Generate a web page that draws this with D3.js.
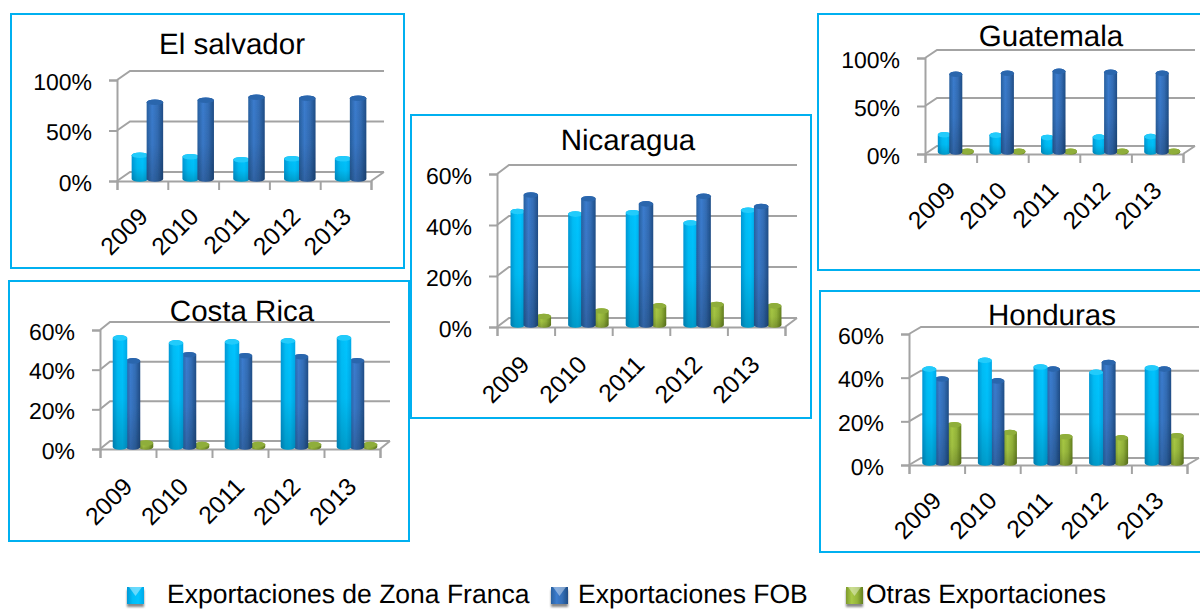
<!DOCTYPE html>
<html lang="es">
<head>
<meta charset="utf-8">
<script src="https://d3js.org/d3.v7.min.js"></script>
<style>
	html, body { margin: 0; background: #fff; overflow: hidden; }
	svg { display: block; }
	text { font-family: "Liberation Sans", Arial, sans-serif; fill: #000; text-rendering: geometricPrecision; }
	.box { fill: #fff; stroke: #00b0f0; stroke-width: 2px; }
	.wall { fill: none; stroke: #a3a3a3; stroke-width: 2px; }
	.axis path, .axis line { stroke: #a3a3a3; stroke-width: 2px; }
	.axis text { font-size: 23px; }
	.title { font-size: 29.5px; text-anchor: middle; }
	.year { font-size: 24.5px; text-anchor: end; }
	.legend-label { font-size: 26.5px; }
</style>
</head>
<body>
<div id="chart"></div>
<script>

var width = 1200, height = 609;

var years = ["2009", "2010", "2011", "2012", "2013"];
var seriesNames = ["Exportaciones de Zona Franca", "Exportaciones FOB", "Otras Exportaciones"];

// values, in percent
var salvadorZona = [23.5, 22, 19, 20, 20];
var salvadorFob = [76, 78, 81, 80, 80];

var nicaraguaZona = [44.5, 43.5, 44, 40, 45];
var nicaraguaFob = [51, 49.5, 47.5, 50.5, 46.5];
var nicaraguaOtras = [3.3, 5.5, 7.5, 8, 7.5];

var guatemalaZona = [18, 17.5, 15, 15.5, 16];
var guatemalaFob = [81, 82, 84, 83, 82];
var guatemalaOtras = [0.8, 0.8, 0.8, 0.8, 0.8];

var costaRicaZona = [55, 52.5, 53, 53.5, 55];
var costaRicaFob = [43.4, 46.5, 46, 45.5, 43.5];
var costaRicaOtras = [2, 1.2, 1.2, 1.2, 1.2];

var hondurasZona = [43, 47, 44, 41.5, 43.5];
var hondurasFob = [38.5, 37.6, 43, 46, 43];
var hondurasOtras = [17.5, 14, 12, 11.5, 12.5];

var ticks100 = [0, 50, 100];
var ticks60 = [0, 20, 40, 60];

// where each little chart sits on the slide
var panels = [
	{ title: "El salvador", values: [salvadorZona, salvadorFob], ticks: ticks100,
		box: [11, 14, 393, 254], x: [117, 371], y: [181, 80], back: [13, -9], pitch: 15,
		titleAt: [232, 54], yearAt: [7, 37], blueOnTop: true },
	{ title: "Costa Rica", values: [costaRicaZona, costaRicaFob, costaRicaOtras], ticks: ticks60,
		box: [9, 281, 400, 260], x: [100, 380], y: [449, 330], back: [10, -8], pitch: 13,
		titleAt: [242, 321], yearAt: [6, 39], blueOnTop: false },
	{ title: "Nicaragua", values: [nicaraguaZona, nicaraguaFob, nicaraguaOtras], ticks: ticks60,
		box: [411, 115, 400, 303], x: [497, 785], y: [327, 174], back: [12, -9], pitch: 13,
		titleAt: [628, 150], yearAt: [5, 39], blueOnTop: true },
	{ title: "Guatemala", values: [guatemalaZona, guatemalaFob, guatemalaOtras], ticks: ticks100,
		box: [818, 14, 400, 256], x: [925, 1183], y: [154, 58], back: [12, -8], pitch: 11.5,
		titleAt: [1051, 46], yearAt: [6, 38], blueOnTop: true },
	{ title: "Honduras", values: [hondurasZona, hondurasFob, hondurasOtras], ticks: ticks60,
		box: [820, 291, 400, 261], x: [909, 1187], y: [465, 334], back: [12, -7], pitch: 12.5,
		titleAt: [1052, 325], yearAt: [6, 37], blueOnTop: false }
];

var svg = d3.select("#chart").append("svg")
	.attr("width", width)
	.attr("height", height);

var defs = svg.append("defs");

defs.append("filter").attr("id", "soft")
	.append("feGaussianBlur").attr("stdDeviation", 0.45);

defs.append("filter").attr("id", "softer")
	.append("feGaussianBlur").attr("stdDeviation", 1.3);

// one sideways gradient per series so the bars read as cylinders
var looks = [
	{ id: "zona", stops: ["#0098d6", "#00bdf6", "#00c4ff", "#00a9e8"], cap: "#22cbfb" },
	{ id: "fob", stops: ["#28609f", "#3b7cce", "#336db5", "#1f4d86"], cap: "#2c66ad" },
	{ id: "otras", stops: ["#7d9a2c", "#a8c945", "#94b43a", "#64801f"], cap: "#8fae3a" }
];

looks.forEach(function(look) {
	var g = defs.append("linearGradient").attr("id", look.id);
	look.stops.forEach(function(c, i) {
		g.append("stop").attr("offset", i / (look.stops.length - 1)).attr("stop-color", c);
	});
});

var shade = defs.append("linearGradient").attr("id", "shade")
	.attr("x1", 0).attr("y1", 0).attr("x2", 0).attr("y2", 1);
shade.append("stop").attr("offset", 0).attr("stop-color", "#000").attr("stop-opacity", 0);
shade.append("stop").attr("offset", 0.55).attr("stop-color", "#000").attr("stop-opacity", 0.04);
shade.append("stop").attr("offset", 1).attr("stop-color", "#000").attr("stop-opacity", 0.2);

panels.forEach(drawPanel);
drawLegend();

function drawPanel(p) {
	var g = svg.append("g");

	g.append("rect").attr("class", "box")
		.attr("x", p.box[0]).attr("y", p.box[1])
		.attr("width", p.box[2]).attr("height", p.box[3]);

	var maxVal = p.ticks[p.ticks.length - 1];
	var y = d3.scaleLinear().domain([0, maxVal]).range(p.y);
	var x = d3.scaleBand().domain(years).range(p.x);
	var edges = d3.scaleLinear().domain([0, years.length]).range(p.x);

	// back wall gridlines with their little slant, and the floor
	var wall = d3.path();
	p.ticks.forEach(function(t) {
		wall.moveTo(p.x[0], y(t));
		wall.lineTo(p.x[0] + p.back[0], y(t) + p.back[1]);
		wall.lineTo(p.x[1] + p.back[0], y(t) + p.back[1]);
	});
	wall.moveTo(p.x[1], y(0));
	wall.lineTo(p.x[1] + p.back[0], y(0) + p.back[1]);
	g.append("path").attr("class", "wall").attr("d", wall.toString());

	var axes = g.append("g");

	axes.append("g").attr("class", "axis")
		.attr("transform", "translate(" + p.x[0] + ",0)")
		.call(d3.axisLeft(y).tickValues(p.ticks).tickSize(8).tickPadding(17)
			.tickFormat(function(d) { return d + "%"; }))
		.selectAll("text").attr("dy", "0.4em");

	axes.append("g").attr("class", "axis")
		.attr("transform", "translate(0," + p.y[0] + ")")
		.call(d3.axisBottom(edges).ticks(years.length).tickSize(9).tickFormat(""));

	axes.selectAll(".axis").attr("font-family", null).attr("font-size", null);

	// bars
	var inner = d3.scaleBand()
		.domain(d3.range(p.values.length))
		.range([-p.pitch * p.values.length / 2, p.pitch * p.values.length / 2]);

	var barW = p.pitch + 1.5;
	var order = p.blueOnTop ? [2, 0, 1] : [2, 1, 0];

	var bars = g.append("g").attr("filter", "url(#soft)");

	order.forEach(function(s) {
		if (!p.values[s]) return;
		p.values[s].forEach(function(v, i) {
			var cx = x(years[i]) + x.bandwidth() / 2 + 5 + inner(s) + inner.bandwidth() / 2;
			drawCylinder(bars, cx, barW, y(v) - 2, y(0) - 2, looks[s]);
		});
	});

	g.selectAll(null)
		.data(years)
		.enter()
		.append("text")
		.attr("class", "year")
		.attr("transform", function(d) {
			return "translate(" + (x(d) + x.bandwidth() / 2 + p.yearAt[0]) + "," + (p.y[0] + p.yearAt[1]) + ") rotate(-45)";
		})
		.text(function(d) { return d; });

	g.append("text").attr("class", "title")
		.attr("x", p.titleAt[0]).attr("y", p.titleAt[1])
		.text(p.title);
}

function drawCylinder(parent, cx, w, top, bottom, look) {
	var rx = w / 2, ry = 2.8;
	var body = "M" + (cx - rx) + "," + top +
		"L" + (cx - rx) + "," + bottom +
		"A" + rx + "," + ry + " 0 0 0 " + (cx + rx) + "," + bottom +
		"L" + (cx + rx) + "," + top +
		"A" + rx + "," + ry + " 0 0 0 " + (cx - rx) + "," + top + "Z";

	parent.append("path").attr("d", body).attr("fill", "url(#" + look.id + ")");
	parent.append("path").attr("d", body).attr("fill", "url(#shade)");
	parent.append("ellipse")
		.attr("cx", cx).attr("cy", top)
		.attr("rx", rx).attr("ry", ry)
		.attr("fill", look.cap);
}

function drawLegend() {
	var spots = [[127, 167], [551, 578], [846, 866]];
	var g = svg.append("g");

	seriesNames.forEach(function(name, i) {
		var k = spots[i][0];
		// shadow first, then the square with its bevel
		g.append("rect")
			.attr("x", k).attr("y", 590)
			.attr("width", 17).attr("height", 17)
			.attr("fill", "#888")
			.attr("filter", "url(#softer)");
		g.append("rect")
			.attr("x", k).attr("y", 587)
			.attr("width", 17).attr("height", 17)
			.attr("fill", "url(#" + looks[i].id + ")")
			.attr("filter", "url(#soft)");
		g.append("path")
			.attr("d", "M" + (k + 2) + ",587L" + (k + 15) + ",587L" + (k + 8.5) + ",596Z")
			.attr("fill", "#fff").attr("opacity", 0.4);
		g.append("text").attr("class", "legend-label")
			.attr("x", spots[i][1]).attr("y", 603)
			.text(name);
	});
}

</script>
</body>
</html>
